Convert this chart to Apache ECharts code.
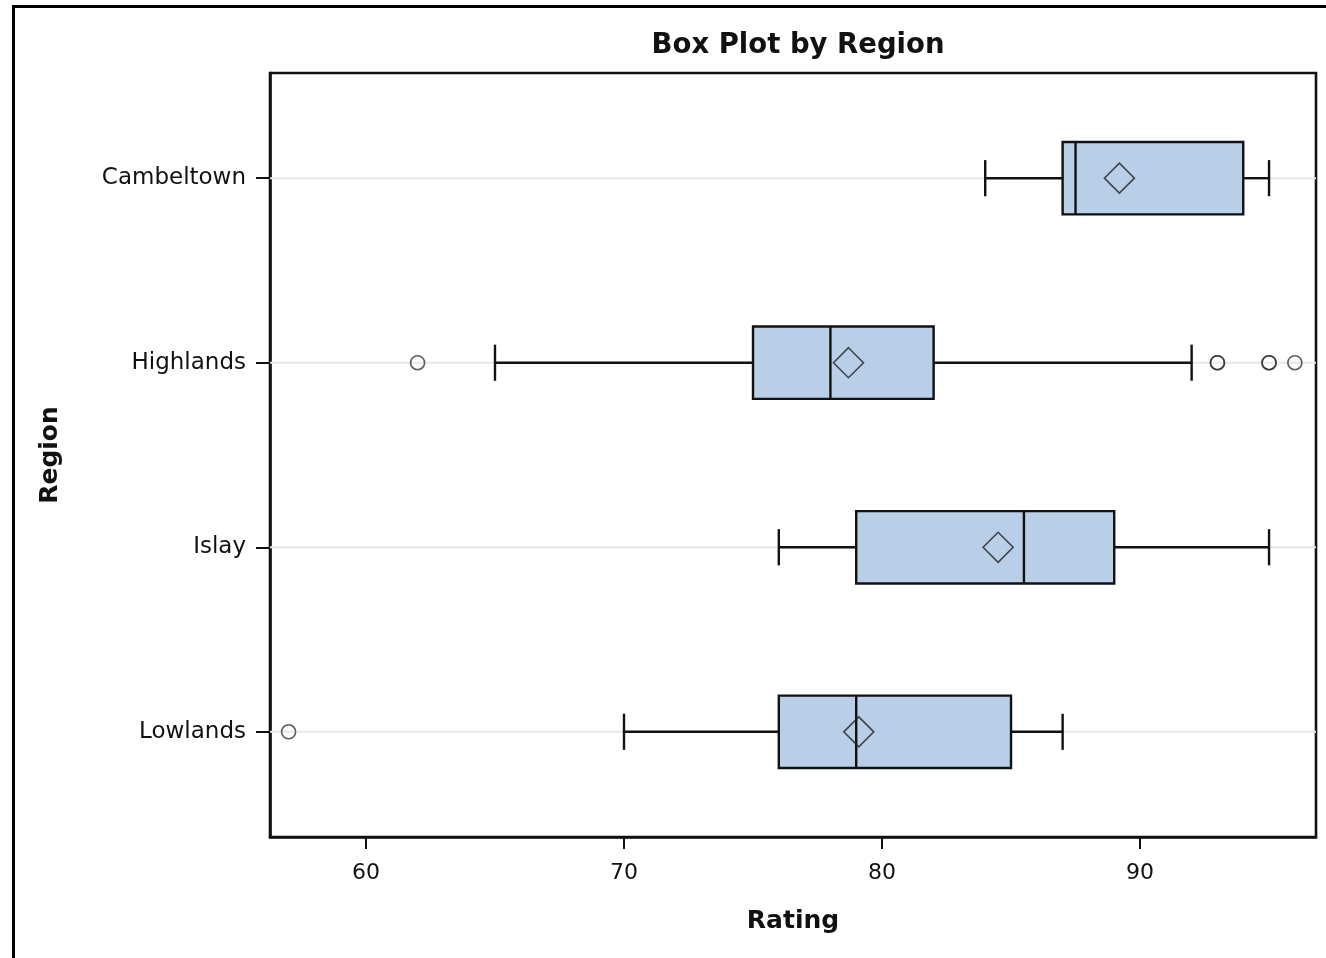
<!DOCTYPE html>
<html>
<head>
<meta charset="utf-8">
<title>Box Plot by Region</title>
<script src="https://cdn.jsdelivr.net/npm/echarts@6/dist/echarts.min.js"></script>
<style>
  html, body { margin: 0; padding: 0; background: #fff; }
  #chart { width: 1326px; height: 958px; }
</style>
</head>
<body>
<div id="chart"></div>
<script>
// 数据：各地区的箱线图统计量
const regions = ['Cambeltown', 'Highlands', 'Islay', 'Lowlands']
const whiskerLow = [84, 65, 76, 70]
const q1 = [87, 75, 79, 76]
const median = [87.5, 78, 85.5, 79]
const q3 = [94, 82, 89, 85]
const whiskerHigh = [95, 92, 95, 87]
const means = [89.2, 78.7, 84.5, 79.1]
const outliers = [[], [62, 93, 93, 95, 95, 96], [], [57]]
const xTicks = [60, 70, 80, 90]

const FONT = 'DejaVu Sans'
const ink = '#111'

const boxData = regions.map((r, i) => [i, whiskerLow[i], q1[i], median[i], q3[i], whiskerHigh[i]])
const meanData = regions.map((r, i) => [means[i], i])
const outlierData = []
outliers.forEach((list, i) => {
  list.forEach((v) => outlierData.push([v, i]))
})

// 自定义绘制箱体、须线、中位线
const renderBox = (params, api) => {
  const idx = api.value(0)
  const band = api.size([0, 1])[1]
  const boxHalf = band * 0.196
  const capHalf = band * 0.098
  const pLow = api.coord([api.value(1), idx])
  const pQ1 = api.coord([api.value(2), idx])
  const pMed = api.coord([api.value(3), idx])
  const pQ3 = api.coord([api.value(4), idx])
  const pHigh = api.coord([api.value(5), idx])
  const y = pQ1[1]
  const cs = params.coordSys
  const lineStyle = { stroke: ink, lineWidth: 2.4 }
  return {
    type: 'group',
    children: [
      // 网格线
      {
        type: 'line',
        shape: { x1: cs.x, y1: y, x2: cs.x + cs.width, y2: y },
        style: { stroke: '#e8e8e8', lineWidth: 2 },
        z2: 0
      },
      { type: 'line', shape: { x1: pLow[0], y1: y, x2: pQ1[0], y2: y }, style: lineStyle, z2: 1 },
      { type: 'line', shape: { x1: pQ3[0], y1: y, x2: pHigh[0], y2: y }, style: lineStyle, z2: 1 },
      { type: 'line', shape: { x1: pLow[0], y1: y - capHalf, x2: pLow[0], y2: y + capHalf }, style: lineStyle, z2: 1 },
      { type: 'line', shape: { x1: pHigh[0], y1: y - capHalf, x2: pHigh[0], y2: y + capHalf }, style: lineStyle, z2: 1 },
      {
        type: 'rect',
        shape: { x: pQ1[0], y: y - boxHalf, width: pQ3[0] - pQ1[0], height: boxHalf * 2 },
        style: { fill: '#b9cfe7', stroke: ink, lineWidth: 2.4 },
        z2: 2
      },
      { type: 'line', shape: { x1: pMed[0], y1: y - boxHalf, x2: pMed[0], y2: y + boxHalf }, style: lineStyle, z2: 3 }
    ]
  }
}

const chart = echarts.init(document.getElementById('chart'))
const option = {
  animation: false,
  backgroundColor: '#fff',
  title: {
    text: 'Box Plot by Region',
    left: 793,
    textAlign: 'center',
    top: 27,
    textStyle: { fontFamily: FONT, fontSize: 27.5, fontWeight: 'bold', color: '#111' }
  },
  graphic: [
    {
      type: 'rect',
      left: 11,
      top: 4,
      shape: { x: 0, y: 0, width: 1400, height: 1000 },
      style: { fill: 'none', stroke: '#000', lineWidth: 3 },
      silent: true
    }
  ],
  grid: {
    left: 270,
    right: 10,
    top: 73,
    bottom: 121,
    show: true,
    borderColor: ink,
    borderWidth: 2.6,
    backgroundColor: 'transparent'
  },
  xAxis: {
    type: 'value',
    min: 56.28,
    max: 96.82,
    name: 'Rating',
    nameLocation: 'middle',
    nameGap: 72,
    nameTextStyle: { fontFamily: FONT, fontSize: 25, fontWeight: 'bold', color: '#111' },
    axisLine: { show: true, onZero: false, lineStyle: { color: ink, width: 2.6 } },
    axisTick: { show: true, length: 12, customValues: xTicks, lineStyle: { color: ink, width: 2 } },
    axisLabel: {
      customValues: xTicks,
      margin: 25,
      fontFamily: FONT,
      fontSize: 22,
      color: '#111'
    },
    splitLine: { show: false }
  },
  yAxis: {
    type: 'value',
    inverse: true,
    min: -0.57,
    max: 3.57,
    name: 'Region',
    nameLocation: 'middle',
    nameGap: 207,
    nameRotate: 90,
    nameTextStyle: { fontFamily: FONT, fontSize: 25, fontWeight: 'bold', color: '#111' },
    axisLine: { show: true, onZero: false, lineStyle: { color: ink, width: 2.6 } },
    axisTick: { show: true, length: 14, customValues: [0, 1, 2, 3], lineStyle: { color: ink, width: 2 } },
    axisLabel: {
      customValues: [0, 1, 2, 3],
      formatter: (v) => regions[Math.round(v)],
      margin: 24,
      fontFamily: FONT,
      fontSize: 23,
      color: '#111'
    },
    splitLine: { show: false }
  },
  series: [
    {
      type: 'custom',
      renderItem: renderBox,
      encode: { x: [1, 2, 3, 4, 5], y: 0 },
      data: boxData,
      z: 2
    },
    {
      type: 'scatter',
      data: meanData,
      symbol: 'diamond',
      symbolSize: 30,
      itemStyle: { color: 'rgba(0,0,0,0)', borderColor: '#222', borderWidth: 1.6 },
      z: 4
    },
    {
      type: 'scatter',
      data: outlierData,
      symbol: 'circle',
      symbolSize: 14,
      itemStyle: { color: 'rgba(0,0,0,0)', borderColor: '#333', borderWidth: 1.6 },
      z: 4
    }
  ]
}
chart.setOption(option)
</script>
</body>
</html>
